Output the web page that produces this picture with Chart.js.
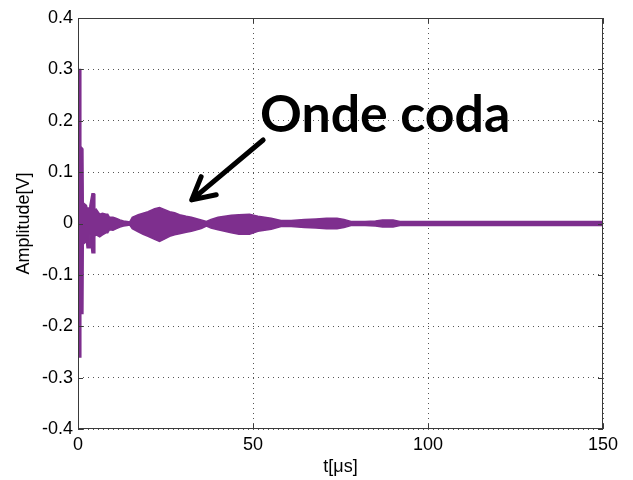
<!DOCTYPE html>
<html>
<head>
<meta charset="utf-8">
<script src="https://cdn.jsdelivr.net/npm/chart.js@4/dist/chart.umd.min.js"></script>
<style>
  html, body { margin: 0; padding: 0; background: #ffffff; }
  #wrap { width: 633px; height: 480px; }
</style>
</head>
<body>
<div id="wrap"><canvas id="c" width="633" height="480"></canvas></div>
<script>
// ---- data (envelope of the dense purple signal) ----
const times    = [0, 0.7, 0.8, 1.4, 1.5, 2.4, 2.6, 3.2, 3.4, 4.0, 4.6, 4.8, 5.2, 6.2, 7, 8, 8.5, 9, 10, 11, 12, 13, 14, 14.8,
                  15.5, 17.2, 18.6, 20, 21.9, 23.3, 24.8, 26.2, 27.6, 29, 30.9, 32.4, 35.2, 36.7, 38,
                  40, 43.8, 46, 49, 51.4, 55.2, 58, 60.9, 64.7, 68, 71, 74, 76, 78, 82, 85, 87, 90, 92,
                  100, 110, 120, 130, 140, 150];
const upperEnv = [0.30, 0.30, 0.15, 0.145, 0.04, 0.035, 0.03, 0.03, 0.035, 0.058, 0.058, 0.025, 0.028, 0.018, 0.02, 0.018, 0.018, 0.012, 0.012, 0.010, 0.007, 0.005, 0.004, 0.003,
                  0.012, 0.017, 0.020, 0.023, 0.029, 0.031, 0.027, 0.023, 0.021, 0.017, 0.014, 0.012, 0.007, 0.004, 0.008,
                  0.012, 0.016, 0.017, 0.018, 0.014, 0.010, 0.006, 0.006, 0.008, 0.009, 0.010, 0.010, 0.008, 0.004, 0.004, 0.005, 0.007, 0.007, 0.004,
                  0.004, 0.004, 0.004, 0.004, 0.004, 0.004];
const lowerEnv = [-0.26, -0.26, -0.175, -0.175, -0.04, -0.035, -0.047, -0.047, -0.02, -0.057, -0.057, -0.025, -0.022, -0.026, -0.022, -0.018, -0.018, -0.012, -0.013, -0.010, -0.007, -0.005, -0.004, -0.003,
                  -0.010, -0.016, -0.021, -0.025, -0.031, -0.035, -0.030, -0.025, -0.022, -0.020, -0.017, -0.015, -0.010, -0.005, -0.009,
                  -0.012, -0.018, -0.021, -0.021, -0.015, -0.011, -0.006, -0.006, -0.008, -0.009, -0.010, -0.010, -0.008, -0.004, -0.004, -0.005, -0.007, -0.007, -0.004,
                  -0.004, -0.004, -0.004, -0.004, -0.004, -0.004];

const xTicks      = [0, 50, 100, 150];
const xTickLabels = ['0', '50', '100', '150'];
const yTicks      = [-0.4, -0.3, -0.2, -0.1, 0, 0.1, 0.2, 0.3, 0.4];
const yTickLabels = ['-0.4', '-0.3', '-0.2', '-0.1', '0', '0.1', '0.2', '0.3', '0.4'];

const xTitle = 't[\u03BCs]';
const yTitle = 'Amplitude[V]';

const annotationText = 'Onde coda';
const annotationAnchor = { t: 52, v: 0.179 };      // left/baseline of text
const arrowTail = { t: 52.9, v: 0.1625 };
const arrowTip  = { t: 32.5, v: 0.046 };

// ---- styles ----
const SIGNAL = '#7E2F8E';
const TICK_FONT = { family: 'Liberation Sans, Arial, sans-serif', size: 18 };

const upperData = times.map((t, i) => ({ x: t, y: upperEnv[i] }));
const lowerData = times.map((t, i) => ({ x: t, y: lowerEnv[i] }));

function labelFor(ticks, labels, value) {
  for (let i = 0; i < ticks.length; i++) if (Math.abs(ticks[i] - value) < 1e-9) return labels[i];
  return '';
}

const boxPlugin = {
  id: 'box',
  afterDatasetsDraw(chart) {
    const { ctx, chartArea: a, scales } = chart;
    ctx.save();
    ctx.strokeStyle = '#3a3a3a';
    ctx.lineWidth = 1;
    ctx.setLineDash([]);
    ctx.strokeRect(Math.round(a.left) + 0.5, Math.round(a.top) + 0.5,
                   Math.round(a.right - a.left) - 1, Math.round(a.bottom - a.top) - 1);
    // inward ticks
    ctx.beginPath();
    xTicks.forEach(v => {
      const px = Math.round(scales.x.getPixelForValue(v)) + 0.5;
      ctx.moveTo(px, a.bottom); ctx.lineTo(px, a.bottom - 5);
      ctx.moveTo(px, a.top); ctx.lineTo(px, a.top + 5);
    });
    yTicks.forEach(v => {
      const py = Math.round(scales.y.getPixelForValue(v)) + 0.5;
      ctx.moveTo(a.left, py); ctx.lineTo(a.left + 5, py);
      ctx.moveTo(a.right, py); ctx.lineTo(a.right - 5, py);
    });
    ctx.stroke();

    // annotation text
    const tx = scales.x.getPixelForValue(annotationAnchor.t);
    const ty = scales.y.getPixelForValue(annotationAnchor.v);
    let size = 54;
    ctx.font = 'bold ' + size + 'px Lato, "Open Sans", sans-serif';
    const w = ctx.measureText(annotationText).width;
    size = size * 250 / w;
    ctx.font = 'bold ' + size.toFixed(1) + 'px Lato, "Open Sans", sans-serif';
    ctx.fillStyle = '#000';
    ctx.textAlign = 'left';
    ctx.textBaseline = 'alphabetic';
    ctx.fillText(annotationText, tx, ty);

    // arrow
    const x0 = scales.x.getPixelForValue(arrowTail.t), y0 = scales.y.getPixelForValue(arrowTail.v);
    const x1 = scales.x.getPixelForValue(arrowTip.t),  y1 = scales.y.getPixelForValue(arrowTip.v);
    const ang = Math.atan2(y0 - y1, x0 - x1);
    const wing = 25, spread = 28 * Math.PI / 180;
    ctx.strokeStyle = '#000';
    ctx.lineWidth = 5;
    ctx.lineCap = 'round';
    ctx.lineJoin = 'round';
    ctx.beginPath();
    ctx.moveTo(x0, y0); ctx.lineTo(x1, y1);
    ctx.moveTo(x1 + wing * Math.cos(ang - spread), y1 + wing * Math.sin(ang - spread));
    ctx.lineTo(x1, y1);
    ctx.lineTo(x1 + wing * Math.cos(ang + spread), y1 + wing * Math.sin(ang + spread));
    ctx.stroke();
    ctx.restore();
  }
};

new Chart(document.getElementById('c'), {
  type: 'line',
  data: {
    datasets: [
      { data: upperData, borderColor: SIGNAL, borderWidth: 1.5, pointRadius: 0, fill: false, tension: 0 },
      { data: lowerData, borderColor: SIGNAL, borderWidth: 1.5, pointRadius: 0, fill: '-1', backgroundColor: SIGNAL, tension: 0 }
    ]
  },
  options: {
    responsive: false,
    animation: false,
    events: [],
    layout: { padding: { top: 18, right: 30, left: 0, bottom: 0 } },
    plugins: { legend: { display: false }, tooltip: { enabled: false } },
    scales: {
      x: {
        type: 'linear', min: 0, max: 150,
        afterBuildTicks: s => { s.ticks = xTicks.map(v => ({ value: v })); },
        afterFit: s => { s.height = 51; },
        ticks: { color: '#000', font: TICK_FONT, padding: 5, maxRotation: 0,
                 callback: v => labelFor(xTicks, xTickLabels, v) },
        grid: { color: '#555', lineWidth: 1, drawTicks: false },
        border: { display: false, dash: [1, 4] },
        title: { display: true, text: xTitle, color: '#000', font: { family: 'Liberation Sans, Arial, sans-serif', size: 18 },
                 padding: { top: 0, bottom: 2 } }
      },
      y: {
        type: 'linear', min: -0.4, max: 0.4,
        afterBuildTicks: s => { s.ticks = yTicks.map(v => ({ value: v })); },
        afterFit: s => { s.width = 78; },
        ticks: { color: '#000', font: TICK_FONT, padding: 5,
                 callback: v => labelFor(yTicks, yTickLabels, v) },
        grid: { color: '#555', lineWidth: 1, drawTicks: false },
        border: { display: false, dash: [1, 4] },
        title: { display: true, text: yTitle, color: '#000', font: { family: 'Liberation Sans, Arial, sans-serif', size: 18 },
                 padding: { top: 13, bottom: 0 } }
      }
    }
  },
  plugins: [boxPlugin]
});
</script>
</body>
</html>
